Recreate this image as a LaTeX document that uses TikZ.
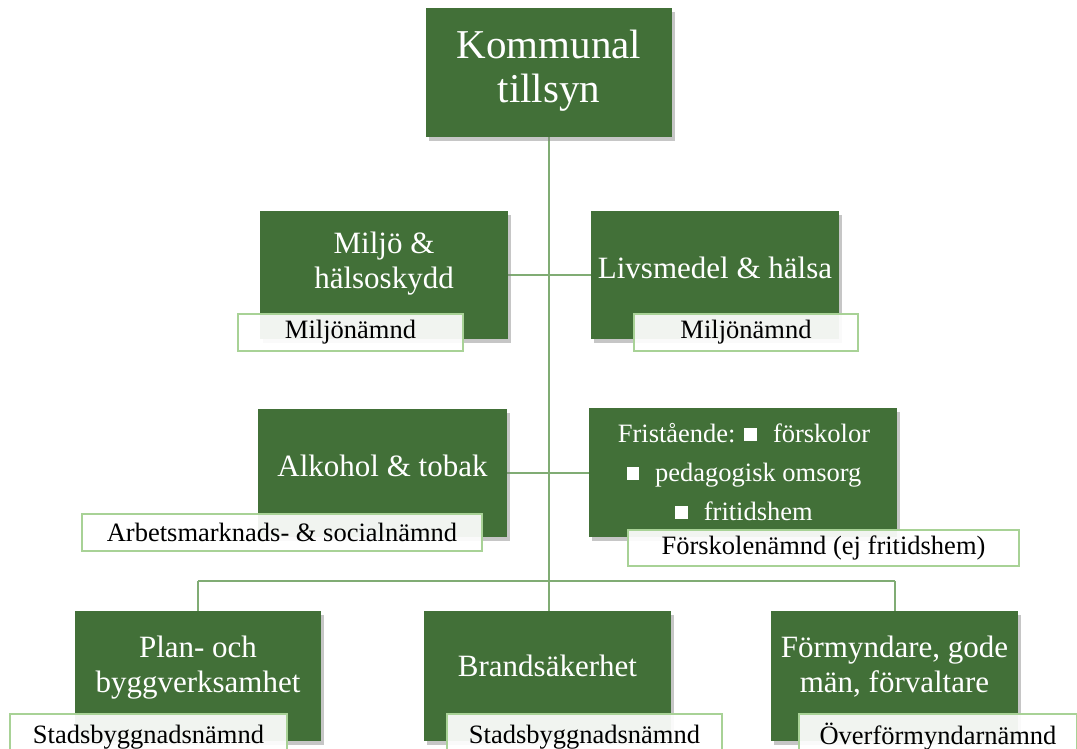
\documentclass[tikz,border=0pt]{standalone}
\usepackage{fontspec}
\setmainfont{Liberation Serif}
\usetikzlibrary{shadows}
\definecolor{boxgreen}{RGB}{66,112,56}
\definecolor{linegreen}{RGB}{128,172,116}
\definecolor{labelborder}{RGB}{168,210,150}
\newcommand{\sq}{\raisebox{0.05em}{\rule{0.48em}{0.48em}}}
\tikzset{
  mainbox/.style={draw=none, fill=boxgreen, inner sep=0pt,
    drop shadow={opacity=0.45, shadow xshift=3pt, shadow yshift=-4pt}},
  maintext/.style={text=white, align=center, inner sep=0pt, font=\fontsize{31}{35}\selectfont},
  labelbox/.style={draw=labelborder, line width=1.2pt, fill=white, fill opacity=0.93, text opacity=1,
    text=black, inner sep=0pt, font=\fontsize{26.5}{30}\selectfont},
  conn/.style={draw=linegreen, line width=2.2pt}
}
\begin{document}
\begin{tikzpicture}[x=1pt,y=-1pt]
\useasboundingbox (0,0) rectangle (1077,749);
\clip (0,0) rectangle (1077,749);
% coordinates for connectors
\coordinate (bl) at (198,581);
\coordinate (bc) at (549,581);
\coordinate (br) at (895,581);
% box frames (for positioning)
\node[inner sep=0pt, minimum width=246pt, minimum height=129pt] (top) at (549,72.5) {};
\node[inner sep=0pt, minimum width=248pt, minimum height=128pt] (miljo) at (384,275) {};
\node[inner sep=0pt, minimum width=248pt, minimum height=128pt] (livs) at (715,275) {};
\node[inner sep=0pt, minimum width=249pt, minimum height=127pt] (alk) at (382.5,473) {};
\node[inner sep=0pt, minimum width=308pt, minimum height=129pt] (fri) at (743,472.5) {};
\node[inner sep=0pt, minimum width=246pt, minimum height=130pt] (plan) at (198,676) {};
\node[inner sep=0pt, minimum width=247pt, minimum height=130pt] (brand) at (547.5,676) {};
\node[inner sep=0pt, minimum width=247pt, minimum height=130pt] (form) at (894.5,676) {};
% connectors
\draw[conn] (top.south) -- (bc);
\draw[conn] (miljo.east) -- (livs.west);
\draw[conn] (alk.east) -- (alk.east -| fri.west);
\draw[conn] (bl) -- (br);
\draw[conn] (bl) -- (bl |- plan.north);
\draw[conn] (bc) -- (bc |- brand.north);
\draw[conn] (br) -- (br |- form.north);
% filled boxes
\foreach \n in {top,miljo,livs,alk,fri,plan,brand,form}{
  \path[mainbox] (\n.north west) rectangle (\n.south east);
}
% texts
\node[maintext, font=\fontsize{41}{44}\selectfont] (ttop) at (549,71) {Kommunal\\tillsyn};
\node[maintext] (tmiljo) at (384,264) {Miljö \&\\hälsoskydd};
\node[maintext] (tlivs) at (715,268) {Livsmedel \& hälsa};
\node[maintext] (talk) at (382.5,466) {Alkohol \& tobak};
\node[maintext, font=\fontsize{26.5}{39}\selectfont] (tfri) at (744,472) {Fristående: \sq\hspace{0.6em}förskolor\\\sq\hspace{0.6em}pedagogisk omsorg\\\sq\hspace{0.6em}fritidshem};
\node[maintext] (tplan) at (198,668) {Plan- och\\byggverksamhet};
\node[maintext] (tbrand) at (547.5,666) {Brandsäkerhet};
\node[maintext] (tform) at (894.5,667) {Förmyndare, gode\\män, förvaltare};
% label boxes
\node[labelbox, minimum width=225pt, minimum height=37pt] (l1) at (350.5,332.5) {Miljönämnd};
\node[labelbox, minimum width=224pt, minimum height=37pt] (l2) at (746,332.5) {Miljönämnd};
\node[labelbox, minimum width=400pt, minimum height=37pt] (l3) at (282,532.5) {Arbetsmarknads- \& socialnämnd};
\node[labelbox, minimum width=391pt, minimum height=36pt] (l4) at (823.5,548) {Förskolenämnd (ej fritidshem)};
\node[labelbox, minimum width=277pt, minimum height=40pt, text depth=0pt] (l5) at (148.5,734) {Stadsbyggnadsnämnd};
\node[labelbox, minimum width=275pt, minimum height=40pt, text depth=0pt] (l6) at (584.5,734) {Stadsbyggnadsnämnd};
\node[labelbox, minimum width=278pt, minimum height=40pt, text depth=0pt] (l7) at (938,734) {Överförmyndarnämnd};
\end{tikzpicture}
\end{document}
